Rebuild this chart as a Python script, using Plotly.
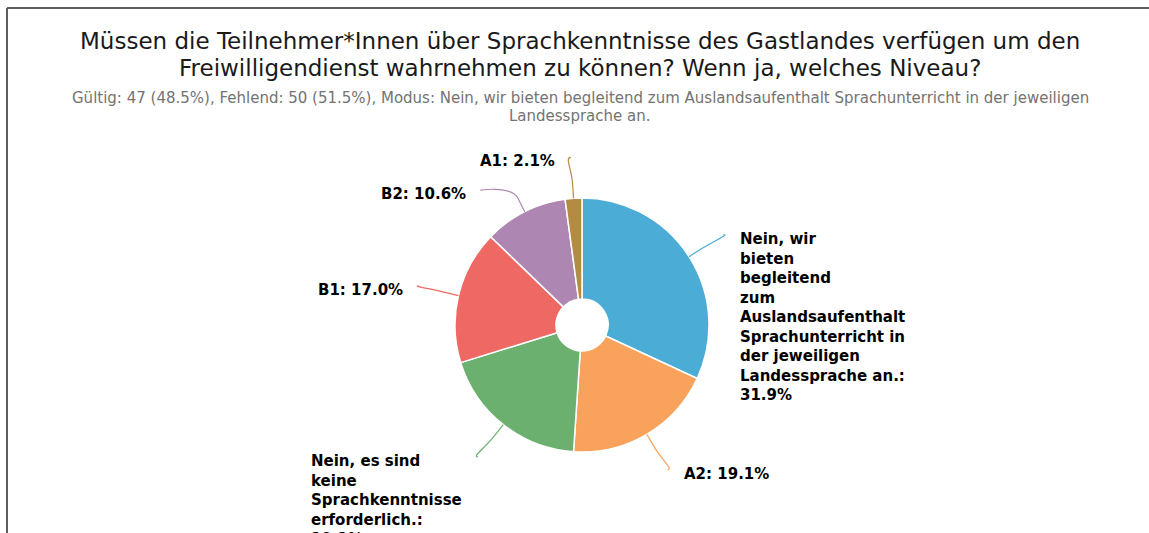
import math
import plotly.graph_objects as go

# data
categories = [
    "Nein, wir<br>bieten<br>begleitend<br>zum<br>Auslandsaufenthalt<br>Sprachunterricht in<br>der jeweiligen<br>Landessprache an.",
    "A2",
    "Nein, es sind<br>keine<br>Sprachkenntnisse<br>erforderlich.",
    "B1",
    "B2",
    "A1",
]
counts = [15, 9, 9, 8, 5, 1]
colors = ["#4bacd6", "#f9a25b", "#6cb070", "#ef6964", "#ad86b2", "#b58a43"]

title_lines = [
    "Müssen die Teilnehmer*Innen über Sprachkenntnisse des Gastlandes verfügen um den",
    "Freiwilligendienst wahrnehmen zu können? Wenn ja, welches Niveau?",
]
subtitle_lines = [
    "Gültig: 47 (48.5%), Fehlend: 50 (51.5%), Modus: Nein, wir bieten begleitend zum Auslandsaufenthalt "
    "Sprachunterricht in der jeweiligen",
    "Landessprache an.",
]

W, H = 1149, 533
CX, CY, R = 582, 325, 127
LABEL_R = 168
BREAK_R = 142


def px(x):
    return x / W


def py(y):
    return 1 - y / H


total = sum(counts)
fig = go.Figure(go.Pie(
    labels=categories,
    values=counts,
    sort=False,
    direction="clockwise",
    rotation=0,
    hole=0.205,
    textinfo="none",
    hoverinfo="label+percent",
    marker=dict(colors=colors, line=dict(color="white", width=1.5)),
    domain=dict(x=[px(CX - R), px(CX + R)], y=[py(CY + R), py(CY - R)]),
    showlegend=False,
))

# label positions from slice mid angles
items = []
cum = 0
for name, c, col in zip(categories, counts, colors):
    mid = (cum + c / 2) / total * 2 * math.pi
    cum += c
    items.append(dict(name=name, pct=c / total * 100, col=col, a=mid,
                      side=1 if math.sin(mid) >= 0 else -1,
                      y=CY - LABEL_R * math.cos(mid)))

# simple overlap avoidance per side
for side in (1, -1):
    group = sorted([it for it in items if it["side"] == side], key=lambda it: it["y"])
    for prev, cur in zip(group, group[1:]):
        if cur["y"] - prev["y"] < 33:
            cur["y"] = prev["y"] + 33

shapes = []
annotations = []
for it in items:
    a = it["a"]
    sx, sy = CX + R * math.sin(a), CY - R * math.cos(a)
    bx, by = CX + BREAK_R * math.sin(a), CY - BREAK_R * math.cos(a)
    dy = it["y"] - CY
    ex = CX + it["side"] * math.sqrt(max(LABEL_R ** 2 - dy ** 2, 0))
    ey = it["y"]
    c2x, c2y = 2 * bx - sx, 2 * by - sy
    path = (f"M {px(ex)},{py(ey)} C {px(ex + it['side'] * 6)},{py(ey)} {px(c2x)},{py(c2y)} {px(bx)},{py(by)} "
            f"L {px(sx)},{py(sy)}")
    shapes.append(dict(type="path", xref="paper", yref="paper", path=path,
                       line=dict(color=it["col"], width=1.2)))
    text = f"{it['name']}:<br>{it['pct']:.1f}%" if "<br>" in it["name"] else f"{it['name']}: {it['pct']:.1f}%"
    annotations.append(dict(
        x=px(ex + it["side"] * 14), y=py(ey - 7), xref="paper", yref="paper",
        xanchor="left" if it["side"] > 0 else "right", yanchor="top", align="left",
        text=f"<b>{text}</b>", showarrow=False,
        font=dict(family="DejaVu Sans", size=15, color="#000000"),
    ))

for line, yc in zip(title_lines, [41, 68]):
    annotations.append(dict(x=px(580), y=py(yc), xref="paper", yref="paper", xanchor="center",
                            yanchor="middle", text=line, showarrow=False,
                            font=dict(family="DejaVu Sans", size=23, color="#1a1a1a")))
for line, yc in zip(subtitle_lines, [98, 116]):
    annotations.append(dict(x=px(580), y=py(yc), xref="paper", yref="paper", xanchor="center",
                            yanchor="middle", text=line, showarrow=False,
                            font=dict(family="DejaVu Sans", size=15, color="#737373")))

# container frame (top and left edge)
shapes.append(dict(type="line", xref="paper", yref="paper", x0=px(7), x1=1.0, y0=py(8), y1=py(8),
                   line=dict(color="#5e5e5e", width=2)))
shapes.append(dict(type="line", xref="paper", yref="paper", x0=px(7), x1=px(7), y0=py(8), y1=0,
                   line=dict(color="#5e5e5e", width=2)))

fig.update_layout(
    width=W, height=H,
    margin=dict(l=0, r=0, t=0, b=0),
    paper_bgcolor="white", plot_bgcolor="white",
    shapes=shapes, annotations=annotations,
)
fig.write_html("out.html", config={"displayModeBar": False},
               post_script="document.body.style.margin='0';document.body.style.overflow='hidden';")
